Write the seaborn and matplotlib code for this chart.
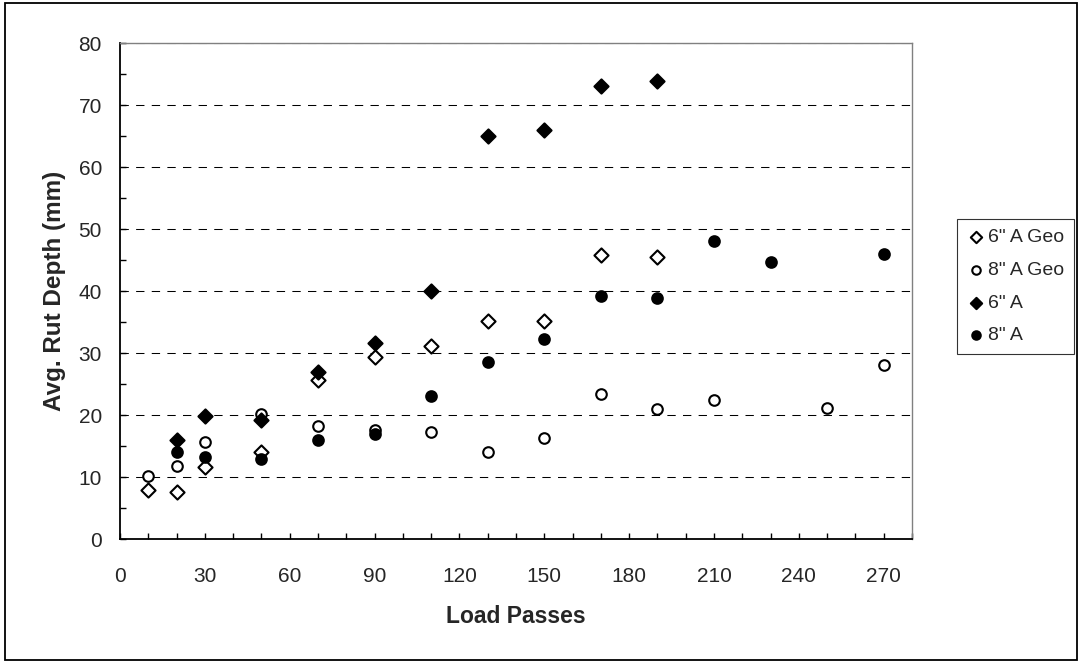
import pandas as pd
import matplotlib.pyplot as plt
import numpy as np
import seaborn as sns
from matplotlib.patches import Rectangle
from matplotlib.ticker import MultipleLocator

# data
passes_6geo = [10, 20, 30, 50, 70, 90, 110, 130, 150, 170, 190]
depth_6geo = [7.9, 7.6, 11.6, 14.1, 25.6, 29.3, 31.1, 35.2, 35.2, 45.8, 45.5]

passes_8geo = [10, 20, 30, 50, 70, 90, 110, 130, 150, 170, 190, 210, 250, 270]
depth_8geo = [10.2, 11.8, 15.7, 20.1, 18.2, 17.6, 17.3, 14.1, 16.3, 23.4, 20.9, 22.5, 21.2, 28.0]

passes_6 = [20, 30, 50, 70, 90, 110, 130, 150, 170, 190]
depth_6 = [16.0, 19.8, 19.2, 27.0, 31.6, 40.0, 65.0, 66.0, 73.0, 73.9]

passes_8 = [20, 30, 50, 70, 90, 110, 130, 150, 170, 190, 210, 230, 270]
depth_8 = [14.1, 13.3, 12.9, 16.0, 16.9, 23.1, 28.5, 32.3, 39.2, 38.9, 48.1, 44.7, 46.0]

series_names = ['6" A Geo', '8" A Geo', '6" A', '8" A']

sns.set_style("white")
plt.rcParams['font.family'] = ['Liberation Sans', 'DejaVu Sans']

fig = plt.figure(figsize=(10.81, 6.63), dpi=100)
ax = fig.add_axes([0.111, 0.187, 0.7327, 0.748])

styles = [("D", "white", 52), ("o", "white", 58), ("D", "black", 52), ("o", "black", 58)]
all_x = [passes_6geo, passes_8geo, passes_6, passes_8]
all_y = [depth_6geo, depth_8geo, depth_6, depth_8]

for name, xs, ys, (mk, fc, sz) in zip(series_names, all_x, all_y, styles):
    df = pd.DataFrame({"passes": xs, "depth": ys})
    sns.scatterplot(data=df, x="passes", y="depth", ax=ax, marker=mk, s=sz,
                    facecolor=fc, edgecolor="black", linewidth=1.5, label=name, zorder=3)

ax.set_xlim(0, 280)
ax.set_ylim(0, 80)
ax.xaxis.set_major_locator(MultipleLocator(30))
ax.xaxis.set_minor_locator(MultipleLocator(10))
ax.yaxis.set_major_locator(MultipleLocator(10))
ax.yaxis.set_minor_locator(MultipleLocator(5))
ax.tick_params(axis="both", which="both", direction="in", length=4, width=1, color="black",
               bottom=True, left=True, top=False, right=False)
ax.tick_params(axis="both", which="major", labelsize=15)
ax.tick_params(axis="x", which="major", pad=20)
ax.tick_params(axis="y", which="major", pad=13)

for v in range(10, 90, 10):
    ax.axhline(v, color="black", lw=0.75, ls=(0, (8, 7)), zorder=1)

for side in ["left", "bottom"]:
    ax.spines[side].set_color("black")
    ax.spines[side].set_linewidth(1.3)
for side in ["top", "right"]:
    ax.spines[side].set_color("#808080")
    ax.spines[side].set_linewidth(1)

ax.set_xlabel("Load Passes", fontsize=16.5, fontweight="bold", labelpad=14)
ax.set_ylabel("Avg. Rut Depth (mm)", fontsize=17.5, fontweight="bold", labelpad=9)

leg = ax.legend(loc="upper left", bbox_to_anchor=(0.885, 0.670), bbox_transform=fig.transFigure,
                borderaxespad=0, frameon=True, fancybox=False, fontsize=14, markerscale=0.8,
                handletextpad=0.1, labelspacing=0.78, borderpad=0.5, handlelength=1.0)
leg.get_frame().set_edgecolor("black")
leg.get_frame().set_linewidth(0.8)

fig.patches.append(Rectangle((0.005, 0.005), 0.991, 0.99, transform=fig.transFigure,
                             fill=False, edgecolor="black", lw=1.3))

fig.savefig("out.png", dpi=100)
